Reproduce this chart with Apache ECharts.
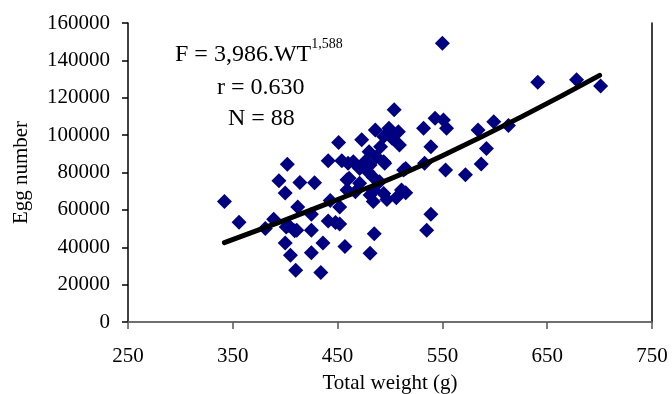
<!DOCTYPE html>
<html>
<head>
<meta charset="utf-8">
<script src="https://cdn.jsdelivr.net/npm/echarts@6/dist/echarts.min.js"></script>
<style>
  html, body { margin: 0; padding: 0; background: #fff; }
  #chart { width: 672px; height: 394px; }
</style>
</head>
<body>
<div id="chart"></div>
<script>
// total weight (g) of each fish
const weights = [
  342, 356, 402, 394, 400, 414, 428, 412, 425, 389,
  381, 403, 411, 425, 400, 405, 425, 436, 410, 434,
  457, 441, 448, 452, 443, 452, 459, 441, 454, 460,
  451, 467, 481, 485, 484, 497, 506, 481, 539, 535,
  515, 504, 532, 543, 551, 554, 539, 584, 553, 572,
  533, 473, 486, 499, 508, 494, 502, 509, 491, 480,
  487, 494, 465, 476, 481, 495, 471, 479, 461, 484,
  471, 513, 511, 484, 494, 459, 550, 641, 678, 701,
  599, 613, 592, 587, 515, 401, 409, 490
];
// egg number of each fish
const eggs = [
  64500, 53400, 84400, 75600, 69000, 74700, 74500, 61600, 57700, 55000,
  50000, 51800, 49100, 49100, 42300, 35700, 37000, 42300, 27700, 26500,
  40400, 54000, 53300, 52500, 65000, 61600, 76100, 86300, 86300, 84900,
  96000, 69700, 36800, 47200, 64500, 65600, 66500, 67900, 57700, 49100,
  69100, 113600, 103700, 109000, 108100, 103700, 93800, 102800, 81300, 78800,
  84900, 97500, 102800, 103700, 101800, 99200, 98300, 94700, 93800, 91100,
  88400, 85800, 85800, 85800, 84000, 84900, 82200, 80400, 76900, 77400,
  74200, 81300, 70600, 70600, 68800, 70600, 149200, 128300, 129600, 126300,
  107200, 105100, 92900, 84500, 82200, 50900, 48800, 75000
];
// fitted power curve
const fitWeights = [342, 450, 550, 700];
const fitEggs = [42500, 65500, 89000, 132000];

const xTicks = { min: 250, max: 750, step: 100 };
const yTicks = { min: 0, max: 160000, step: 20000 };

const serif = "'Liberation Serif', 'Times New Roman', serif";

const chart = echarts.init(document.getElementById('chart'), null, { renderer: 'canvas' });

const option = {
  animation: false,
  backgroundColor: '#fff',
  grid: { left: 128, top: 23, right: 20, bottom: 72, outerBoundsMode: 'none' },
  xAxis: [
    {
      type: 'value',
      min: xTicks.min,
      max: xTicks.max,
      interval: xTicks.step,
      name: 'Total weight (g)',
      nameLocation: 'middle',
      nameGap: 51,
      nameTextStyle: { fontFamily: serif, fontSize: 21, color: '#000' },
      axisLine: { lineStyle: { color: '#000', width: 1.5 } },
      axisTick: { length: 7, lineStyle: { color: '#555', width: 1.5 } },
      axisLabel: { fontFamily: serif, fontSize: 21, color: '#000', margin: 24 },
      splitLine: { show: false }
    },
    {
      type: 'value',
      position: 'top',
      min: xTicks.min,
      max: xTicks.max,
      axisLine: { lineStyle: { color: '#808080', width: 1.5 } },
      axisTick: { show: false },
      axisLabel: { show: false },
      splitLine: { show: false }
    }
  ],
  yAxis: [
    {
      type: 'value',
      min: yTicks.min,
      max: yTicks.max,
      interval: yTicks.step,
      name: 'Egg number',
      nameLocation: 'middle',
      nameGap: 96,
      nameTextStyle: { fontFamily: serif, fontSize: 21, color: '#000' },
      axisLine: { show: true, lineStyle: { color: '#000', width: 1.5 } },
      axisTick: { show: true, length: 6, lineStyle: { color: '#000', width: 1.5 } },
      axisLabel: {
        fontFamily: serif, fontSize: 21, color: '#000', margin: 18,
        formatter: v => String(v)
      },
      splitLine: { show: false }
    },
    {
      type: 'value',
      position: 'right',
      min: yTicks.min,
      max: yTicks.max,
      axisLine: { show: true, lineStyle: { color: '#000', width: 1.5 } },
      axisTick: { show: false },
      axisLabel: { show: false },
      splitLine: { show: false }
    }
  ],
  graphic: [
    {
      type: 'text',
      left: 175,
      top: 37,
      style: {
        text: '{a|F = 3,986.WT}{s|1,588}',
        rich: {
          a: { fontFamily: serif, fontSize: 24, fill: '#000', lineHeight: 30, verticalAlign: 'bottom' },
          s: { fontFamily: serif, fontSize: 14, fill: '#000', lineHeight: 30, verticalAlign: 'top' }
        }
      }
    },
    {
      type: 'text',
      left: 217,
      top: 76,
      style: { text: 'r = 0.630', fontFamily: serif, fontSize: 24, fill: '#000' }
    },
    {
      type: 'text',
      left: 228,
      top: 107,
      style: { text: 'N = 88', fontFamily: serif, fontSize: 24, fill: '#000' }
    }
  ],
  series: [
    {
      type: 'scatter',
      symbol: 'diamond',
      symbolSize: [15, 15],
      itemStyle: { color: '#000080', opacity: 1 },
      data: weights.map((w, i) => [w, eggs[i]]),
      z: 2
    },
    {
      type: 'line',
      smooth: true,
      symbol: 'none',
      lineStyle: { color: '#000', width: 5, cap: 'round' },
      data: fitWeights.map((w, i) => [w, fitEggs[i]]),
      z: 3
    }
  ]
};

chart.setOption(option);
</script>
</body>
</html>
